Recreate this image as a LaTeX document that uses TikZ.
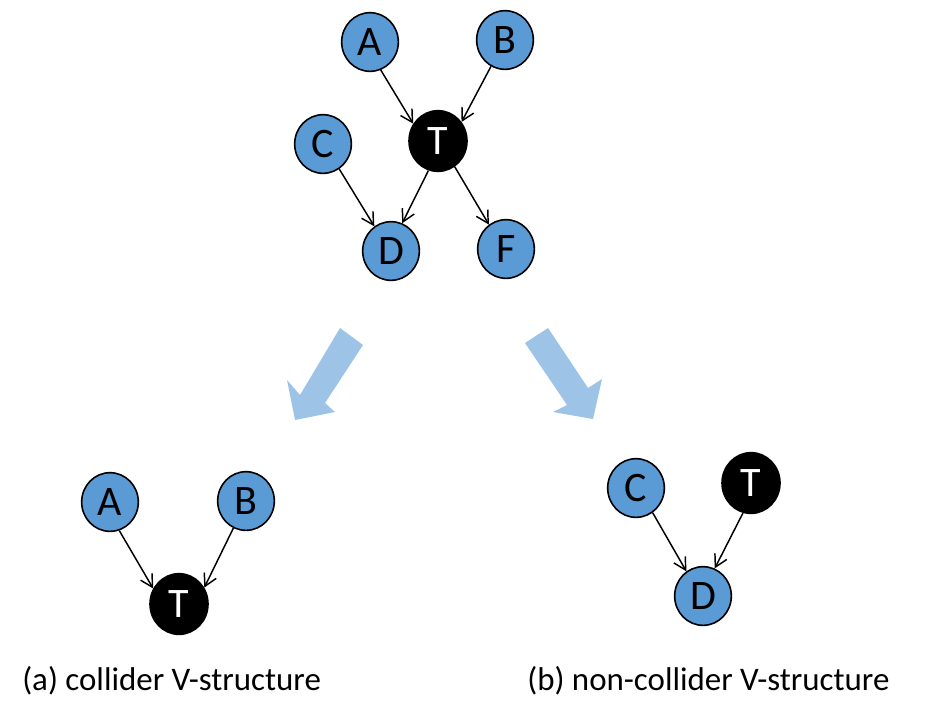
\documentclass[tikz,border=0pt]{standalone}
\usepackage{fontspec}
\setmainfont{Carlito}
\usetikzlibrary{shapes.geometric,arrows.meta}
\definecolor{nodeblue}{HTML}{5B9BD5}
\definecolor{bigarrow}{HTML}{9DC3E6}
\tikzset{
  vnode/.style={ellipse, draw=black, line width=1.2pt, fill=nodeblue, text=black,
    minimum width=42.5pt, minimum height=44pt, inner sep=0pt,
    font=\fontsize{31.5}{31.5}\selectfont},
  tnode/.style={vnode, fill=black, text=white, minimum width=43.5pt, minimum height=45.5pt},
  edge/.style={line width=1.1pt, -{Straight Barb[length=9pt,width=10pt,line width=1.1pt]}},
  caption/.style={anchor=base west, inner sep=0pt, font=\fontsize{24.7}{24.7}\selectfont},
  fat/.style={fill=bigarrow, draw=none}
}
\begin{document}
\begin{tikzpicture}[x=0.75pt,y=-0.75pt]
\useasboundingbox (0,0) rectangle (937,719);
% top graph
\node[vnode] (A) at (370,42) {A};
\node[vnode] (B) at (505,40) {B};
\node[tnode] (T) at (438,141) {T};
\node[vnode] (C) at (323,144) {C};
\node[vnode] (D) at (391,251) {D};
\node[vnode] (F) at (506,249) {F};
\draw[edge] (A.-69) -- (T.145);
\draw[edge] (B.-118) -- (T.39);
\draw[edge] (C.-57) -- (D.124);
\draw[edge] (T.-108) -- (D.68);
\draw[edge] (T.-57) -- (F.125);
% big arrows
\fill[fat] (340,328) -- (363,345) -- (325,403) -- (335,412) -- (295,420) -- (287,380) -- (300,395) -- cycle;
\fill[fat] (548,328) -- (525,343) -- (567,405) -- (553,412) -- (593,419) -- (602,379) -- (588,388) -- cycle;
% (a)
\node[vnode] (a1) at (110,502) {A};
\node[vnode] (b1) at (246,501) {B};
\node[tnode] (t1) at (179,604) {T};
\draw[edge] (a1.-72) -- (t1.149);
\draw[edge] (b1.-115) -- (t1.33);
% (b)
\node[vnode] (c2) at (636,488) {C};
\node[tnode] (t2) at (751,483) {T};
\node[vnode] (d2) at (703,596) {D};
\draw[edge] (c2.-56) -- (d2.124);
\draw[edge] (t2.-105) -- (d2.67);
% captions
\node[caption] (capa) at (22,690) {(a) collider V-structure};
\node[caption] (capb) at (527,690) {(b) non-collider V-structure};
\end{tikzpicture}
\end{document}
